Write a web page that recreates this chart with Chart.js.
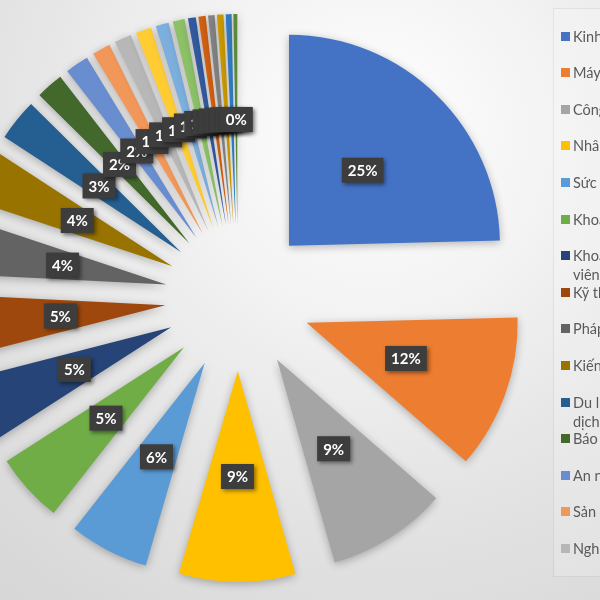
<!DOCTYPE html>
<html lang="vi">
<head>
<meta charset="utf-8">
<title>Ngành học</title>
<script src="https://cdn.jsdelivr.net/npm/chart.js@4.4.1/dist/chart.umd.min.js"></script>
<style>
  html, body { margin: 0; padding: 0; }
  body {
    width: 600px; height: 600px; overflow: hidden; position: relative;
    background: radial-gradient(circle at 62% 22%, #ffffff 0%, #f4f4f4 28%, #e4e4e4 62%, #d6d6d6 100%);
    font-family: Lato, "Liberation Sans", sans-serif;
  }
  #c { position: absolute; left: 0; top: 0; }
  #legend {
    position: absolute; left: 553px; top: 8px; width: 200px; height: 567px;
    border: 1px solid rgba(0,0,0,.07); background: rgba(255,255,255,.18);
  }
  .item { position: absolute; left: 7px; height: 36.6px; font-size: 14.5px; line-height: 19px;
          color: #595959; white-space: nowrap; }
  .item i { position: absolute; left: 0; top: 5px; width: 9px; height: 9px; }
  .item span { position: absolute; left: 12px; top: 0; }
</style>
</head>
<body>
<canvas id="c" width="600" height="600"></canvas>
<div id="legend"></div>
<script>
// categories (legend order = slice order, clockwise from 12 o'clock)
var categories = [
  'Kinh doanh và quản lý',
  'Máy tính và công nghệ thông tin',
  'Công nghệ kỹ thuật',
  'Nhân văn',
  'Sức khỏe',
  'Khoa học xã hội và hành vi',
  ['Khoa học giáo dục và đào tạo giáo', 'viên'],
  'Kỹ thuật',
  'Pháp luật',
  'Kiến trúc và xây dựng',
  ['Du lịch, khách sạn, thể thao và', 'dịch vụ cá nhân'],
  'Báo chí và thông tin',
  'An ninh, Quốc phòng',
  'Sản xuất và chế biến',
  'Nghệ thuật',
  'Nông, lâm nghiệp và thủy sản',
  'Khoa học tự nhiên',
  'Khoa học sự sống',
  'Dịch vụ xã hội',
  'Toán và thống kê',
  'Môi trường và bảo vệ môi trường',
  'Dịch vụ vận tải',
  'Thú y',
  'Khác'
];

// share of each field, %
var shares = [24.6, 11.8, 9.2, 8.9, 6.1, 5.3, 5.1, 4.8, 4.3, 4.1, 3.2, 2.1,
              1.8, 1.4, 1.3, 1.2, 1.0, 0.9, 0.6, 0.55, 0.5, 0.5, 0.45, 0.3];

// Office default palette (accents, then darker, then lighter, then mid shades)
var colors = [
  '#4472C4', '#ED7D31', '#A5A5A5', '#FFC000', '#5B9BD5', '#70AD47',
  '#264478', '#9E480E', '#636363', '#997300', '#255E91', '#43682B',
  '#698ED0', '#F1975A', '#B7B7B7', '#FFCD33', '#7CAFDD', '#8CC168',
  '#335AA1', '#D26012', '#848484', '#CC9A00', '#327DC2', '#5A8A39'
];

var LEGEND_ROWS = 15;   // the source legend is truncated after 15 entries
var EXPLODE = 73;       // px every slice is pulled out from the centre

// Excel-style explosion: every slice moved the same distance along its bisector.
// (Chart.js' own `offset` shrinks thin slices, so shift the arc centres instead.)
var explode = {
  id: 'explode',
  afterDatasetUpdate: function (chart, args) {
    chart.getDatasetMeta(args.index).data.forEach(function (arc) {
      var mid = (arc.startAngle + arc.endAngle) / 2;
      arc.x += Math.cos(mid) * EXPLODE;
      arc.y += Math.sin(mid) * EXPLODE;
    });
  },
  beforeDatasetDraw: function (chart) {
    var ctx = chart.ctx;
    ctx.save();
    ctx.shadowColor = 'rgba(0,0,0,.28)';
    ctx.shadowBlur = 9;
    ctx.shadowOffsetY = 2;
  },
  afterDatasetDraw: function (chart) { chart.ctx.restore(); }
};

// dark percentage tags in the middle of each slice
var tags = {
  id: 'tags',
  afterDatasetsDraw: function (chart) {
    var ctx = chart.ctx;
    var data = chart.data.datasets[0].data;
    var total = data.reduce(function (a, b) { return a + b; }, 0);
    ctx.save();
    ctx.font = 'bold 15px Lato, "Liberation Sans", sans-serif';
    ctx.textAlign = 'center';
    ctx.textBaseline = 'middle';
    chart.getDatasetMeta(0).data.forEach(function (arc, i) {
      var p = arc.getCenterPoint();
      var txt = Math.round(data[i] / total * 100) + '%';
      var w = ctx.measureText(txt).width + 12, h = 25;
      ctx.shadowColor = 'rgba(0,0,0,.45)';
      ctx.shadowBlur = 4; ctx.shadowOffsetX = 2; ctx.shadowOffsetY = 2;
      ctx.fillStyle = '#3d3d3d';
      ctx.fillRect(p.x - w / 2, p.y - h / 2, w, h);
      ctx.shadowColor = 'transparent';
      ctx.fillStyle = '#ffffff';
      ctx.fillText(txt, p.x, p.y + 1);
    });
    ctx.restore();
  }
};

var chart = new Chart(document.getElementById('c'), {
  type: 'pie',
  data: {
    labels: categories,
    datasets: [{ data: shares, backgroundColor: colors, borderWidth: 0, clip: false }]
  },
  options: {
    responsive: false, animation: false, events: [],
    radius: 211,
    layout: { padding: { left: 0, right: 124, top: 0, bottom: 4 } },
    plugins: { legend: { display: false }, tooltip: { enabled: false } }
  },
  plugins: [explode, tags]
});

// HTML legend, same fixed row pitch Excel uses (wrapped names spill below)
var box = document.getElementById('legend');
chart.data.labels.slice(0, LEGEND_ROWS).forEach(function (lab, i) {
  var row = document.createElement('div');
  row.className = 'item';
  row.style.top = (17.5 + i * 36.6) + 'px';
  var mark = document.createElement('i');
  mark.style.background = chart.data.datasets[0].backgroundColor[i];
  var txt = document.createElement('span');
  txt.innerHTML = [].concat(lab).join('<br>');
  row.appendChild(mark); row.appendChild(txt);
  box.appendChild(row);
});
</script>
</body>
</html>
